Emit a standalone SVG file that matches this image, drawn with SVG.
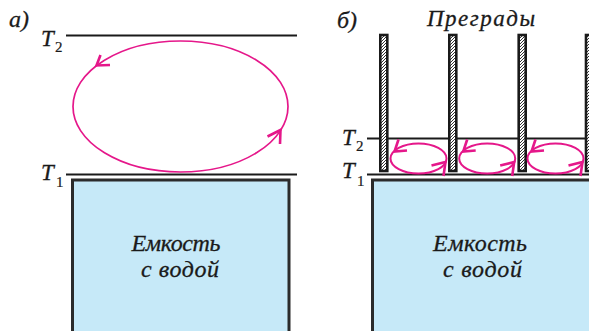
<svg xmlns="http://www.w3.org/2000/svg" width="589" height="331" viewBox="0 0 589 331">
<style>
text{font-family:'Liberation Serif','Times New Roman','DejaVu Serif',serif}
.lbl{font-style:italic;fill:#1a1a1a;stroke:#1a1a1a;stroke-width:0.3}
.sub{font-style:normal;fill:#1a1a1a;font-size:15px;stroke:#1a1a1a;stroke-width:0.2}
.lev{stroke:#1a1a1a;stroke-width:2;fill:none}
.tank{fill:#c6e9f8;stroke:#2b2b2b;stroke-width:3}
.bar{fill:url(#hatch);stroke:#1a1a1a;stroke-width:2.6}
.flow{fill:none;stroke:#e5178a;stroke-width:1.7}
.flow2{fill:none;stroke:#e5178a;stroke-width:2}
.head{fill:none;stroke:#e5178a;stroke-width:2.6;stroke-linecap:butt;stroke-linejoin:miter}
</style>
<defs>
<pattern id="hatch" patternUnits="userSpaceOnUse" width="3" height="3">
<rect width="3" height="3" fill="#ffffff"/>
<path d="M-1,1 L1,-1 M0,3 L3,0 M2,4 L4,2" stroke="#333" stroke-width="1"/>
</pattern>
</defs>

<g id="panel-a">
<text class="lbl" x="9" y="27" font-size="24">a)</text>
<g id="a-T2"><text class="lbl" x="41" y="46" font-size="23">T</text><text class="sub" x="55" y="52">2</text></g>
<g id="a-T1"><text class="lbl" x="41" y="180" font-size="23">T</text><text class="sub" x="56" y="187">1</text></g>
<line class="lev" x1="66" y1="35.5" x2="297" y2="35.5"/>
<line class="lev" x1="66" y1="174.5" x2="297" y2="174.5"/>
<g id="tank-a">
<rect class="tank" x="72.5" y="180" width="216.5" height="170"/>
<text class="lbl" x="176" y="251" font-size="24" text-anchor="middle" textLength="89" lengthAdjust="spacing">Емкость</text>
<text class="lbl" x="180" y="277" font-size="24" text-anchor="middle" textLength="78" lengthAdjust="spacing">с водой</text>
</g>
</g>

<g id="panel-b">
<text class="lbl" x="337" y="28" font-size="24">б)</text>
<text class="lbl" x="481" y="25.5" font-size="23" text-anchor="middle" textLength="108" lengthAdjust="spacing">Преграды</text>
<g id="b-T2"><text class="lbl" x="342" y="145" font-size="23">T</text><text class="sub" x="356" y="151">2</text></g>
<g id="b-T1"><text class="lbl" x="342" y="178" font-size="23">T</text><text class="sub" x="357" y="186">1</text></g>
<line class="lev" x1="367" y1="138.5" x2="589" y2="138.5"/>
<line class="lev" x1="367" y1="174.5" x2="589" y2="174.5"/>
<g id="tank-b">
<rect class="tank" x="372.5" y="180" width="230" height="170"/>
<text class="lbl" x="480" y="251" font-size="24" text-anchor="middle" textLength="94" lengthAdjust="spacing">Емкость</text>
<text class="lbl" x="482.5" y="277" font-size="24" text-anchor="middle" textLength="79" lengthAdjust="spacing">с водой</text>
</g>
<g id="barriers">
<rect class="bar" x="380.3" y="35" width="7" height="136"/>
<rect class="bar" x="449.3" y="35" width="7" height="136"/>
<rect class="bar" x="518.7" y="35" width="7" height="136"/>
<rect class="bar" x="586" y="35" width="7" height="136"/>
</g>
</g>

<g id="connectors">
<g id="loop-a">
<ellipse class="flow" cx="180.5" cy="106.5" rx="107.5" ry="65.5"/>
<path class="head" d="M100.5,55 L96.5,65.5 L110,65"/>
<path class="head" d="M267.5,136.5 L280.5,130 L280,144"/>
</g>
<g id="loop-b1">
<ellipse class="flow2" cx="418.5" cy="158.5" rx="28" ry="15"/>
<path class="head" d="M398.5,139.5 L394.5,151.5 L407,150.5"/>
<path class="head" d="M431.5,165.5 L445.5,162 L443.5,176"/>
</g>
<g id="loop-b2" transform="translate(68.7,0)">
<ellipse class="flow2" cx="418.5" cy="158.5" rx="28" ry="15"/>
<path class="head" d="M398.5,139.5 L394.5,151.5 L407,150.5"/>
<path class="head" d="M431.5,165.5 L445.5,162 L443.5,176"/>
</g>
<g id="loop-b3" transform="translate(137,0)">
<ellipse class="flow2" cx="418.5" cy="158.5" rx="28" ry="15"/>
<path class="head" d="M398.5,139.5 L394.5,151.5 L407,150.5"/>
<path class="head" d="M431.5,165.5 L445.5,162 L443.5,176"/>
</g>
</g>
</svg>
